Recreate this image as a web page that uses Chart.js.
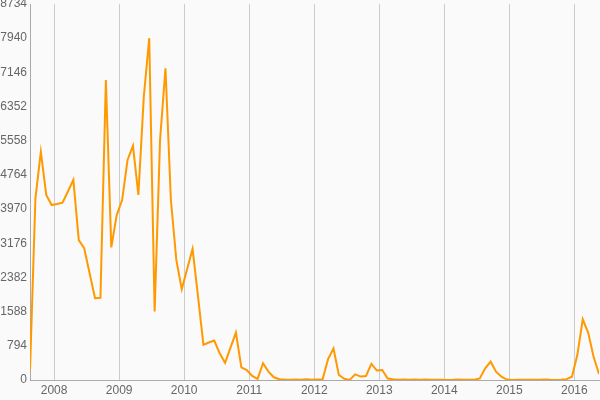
<!DOCTYPE html>
<html>
<head>
<meta charset="utf-8">
<script src="https://cdn.jsdelivr.net/npm/chart.js@4/dist/chart.umd.min.js"></script>
<style>
  html, body { margin: 0; padding: 0; background: #fafafa; }
  #wrap { width: 600px; height: 400px; }
</style>
</head>
<body>
<div id="wrap"><canvas id="c" width="600" height="400"></canvas></div>
<script>
// Monthly categories (YYYY-MM)
const months = [
  "2007-08","2007-09","2007-10","2007-11","2007-12",
  "2008-01","2008-02","2008-03","2008-04","2008-05","2008-06","2008-07","2008-08","2008-09","2008-10","2008-11","2008-12",
  "2009-01","2009-02","2009-03","2009-04","2009-05","2009-06","2009-07","2009-08","2009-09","2009-10","2009-11","2009-12",
  "2010-01","2010-02","2010-03","2010-04","2010-05","2010-06","2010-07","2010-08","2010-09","2010-10","2010-11","2010-12",
  "2011-01","2011-02","2011-03","2011-04","2011-05","2011-06","2011-07","2011-08","2011-09","2011-10","2011-11","2011-12",
  "2012-01","2012-02","2012-03","2012-04","2012-05","2012-06","2012-07","2012-08","2012-09","2012-10","2012-11","2012-12",
  "2013-01","2013-02","2013-03","2013-04","2013-05","2013-06","2013-07","2013-08","2013-09","2013-10","2013-11","2013-12",
  "2014-01","2014-02","2014-03","2014-04","2014-05","2014-06","2014-07","2014-08","2014-09","2014-10","2014-11","2014-12",
  "2015-01","2015-02","2015-03","2015-04","2015-05","2015-06","2015-07","2015-08","2015-09","2015-10","2015-11","2015-12",
  "2016-01","2016-02","2016-03","2016-04","2016-05"
];

// Series values (one per month)
const values = [
  230, 4220, 5300, 4300, 4065,
  4090, 4120, 4380, 4650, 3250, 3060, 2480, 1900, 1910, 6970, 3080, 3830,
  4180, 5110, 5440, 4300, 6580, 7940, 1590, 5580, 7240, 4180, 2790, 2110,
  2580, 3045, 1950, 815, 870, 915, 620, 400, 750, 1100, 295, 230,
  95, 25, 390, 195, 63, 16, 10, 8, 12, 5, 15, 6,
  10, 16, 485, 730, 116, 30, 3, 132, 80, 93, 375, 220,
  232, 35, 15, 8, 14, 4, 10, 5, 12, 6, 3, 5,
  2, 4, 10, 3, 5, 8, 35, 271, 426, 193, 77, 10,
  2, 5, 3, 8, 4, 6, 10, 4, 2, 5, 20, 77,
  580, 1410, 1100, 540, 140
];

// Tick labels
const yearTicks = [2008, 2009, 2010, 2011, 2012, 2013, 2014, 2015, 2016];
const yTicks = [0, 794, 1588, 2382, 3176, 3970, 4764, 5558, 6352, 7146, 7940, 8734];

// Samples are taken around the middle of each month
const dayFraction = 0.55;
const toX = (m) => {
  const [y, mo] = m.split("-").map(Number);
  return y + (mo - 1 + dayFraction) / 12;
};
const points = months.map((m, i) => ({ x: toX(m), y: values[i] }));

const FONT = "'Liberation Sans', Arial, Helvetica, sans-serif";

new Chart(document.getElementById("c"), {
  type: "line",
  data: {
    datasets: [{
      data: points,
      borderColor: "#ff9900",
      borderWidth: 2,
      pointRadius: 0,
      tension: 0,
      fill: false
    }]
  },
  options: {
    responsive: false,
    animation: false,
    layout: { padding: { left: 0, right: 1, top: 0, bottom: 0 } },
    plugins: { legend: { display: false }, tooltip: { enabled: false } },
    scales: {
      x: {
        type: "linear",
        min: points[0].x,
        max: points[points.length - 1].x,
        afterBuildTicks: (s) => { s.ticks = yearTicks.map(v => ({ value: v })); },
        afterFit: (s) => { s.height = 20; },
        ticks: {
          autoSkip: false,
          maxRotation: 0,
          padding: 3,
          color: "#666",
          font: { family: FONT, size: 12 },
          callback: (v) => String(v)
        },
        grid: { color: "#cccccc", lineWidth: 1, drawTicks: false },
        border: { display: true, color: "#aaaaaa", width: 1 }
      },
      y: {
        type: "linear",
        min: 0,
        max: yTicks[yTicks.length - 1],
        afterBuildTicks: (s) => { s.ticks = yTicks.map(v => ({ value: v })); },
        afterFit: (s) => { s.width = 30; s.paddingTop = 4; s.paddingBottom = 0; },
        ticks: {
          autoSkip: false,
          padding: 3,
          color: "#666",
          font: { family: FONT, size: 12 },
          callback: (v) => String(v)
        },
        grid: { color: "rgba(0,0,0,0)", drawTicks: false },
        border: { display: true, color: "#aaaaaa", width: 1 }
      }
    }
  }
});
</script>
</body>
</html>
